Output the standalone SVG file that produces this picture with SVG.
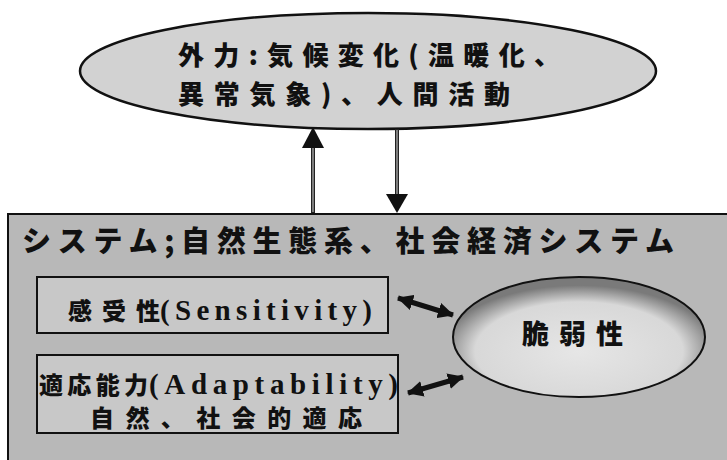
<svg xmlns="http://www.w3.org/2000/svg" width="727" height="460" viewBox="0 0 727 460">
<style>
.t{font-family:"Noto Sans CJK JP","Noto Sans CJK SC",sans-serif;font-weight:900;fill:#111}
.l{font-family:"Liberation Serif","Noto Sans CJK JP",serif;font-weight:700;fill:#111}
.frame{stroke:#111;stroke-width:2}
.shaft{stroke:#222;stroke-width:4}
.shaftin{stroke:#bbb;stroke-width:1.2}
.dbl{stroke:#111;stroke-width:5;marker-start:url(#ah);marker-end:url(#ah)}
</style>
<defs>
<marker id="ah" viewBox="0 0 16 16" refX="15" refY="8" markerWidth="16" markerHeight="16" markerUnits="userSpaceOnUse" orient="auto-start-reverse">
<path d="M0,0 L16,8 L0,16 z" fill="#111"/>
</marker>
<radialGradient id="vg" cx="50%" cy="62%" r="55%">
<stop offset="0" stop-color="#e6e6e6"/>
<stop offset="0.75" stop-color="#d8d8d8"/>
<stop offset="1" stop-color="#7a7a7a"/>
</radialGradient>
</defs>
<rect width="727" height="460" fill="#fff"/>
<g id="external">
<ellipse cx="368" cy="71" rx="288" ry="58" fill="#d2d2d2" stroke="#111" stroke-width="2.5"/>
<text class="t" x="178" y="65" font-size="26" textLength="382" lengthAdjust="spacing">外力:気候変化(温暖化、</text>
<text class="t" x="178" y="104" font-size="26" textLength="332" lengthAdjust="spacing">異常気象)、人間活動</text>
</g>
<g id="system">
<rect x="8" y="214" width="740" height="260" fill="#b8b8b8" class="frame"/>
<text class="t" x="22" y="252" font-size="29" textLength="652" lengthAdjust="spacing">システム;自然生態系、社会経済システム</text>
</g>
<g id="sensitivity">
<rect x="37" y="277" width="351" height="56" fill="#c8c8c8" class="frame"/>
<text class="t" x="68" y="320" font-size="24" textLength="92" lengthAdjust="spacing">感受性</text>
<text class="l" x="160" y="320" font-size="29" textLength="212" lengthAdjust="spacing">(Sensitivity)</text>
</g>
<g id="adaptability">
<rect x="37" y="355" width="361" height="78" fill="#c8c8c8" class="frame"/>
<text class="t" x="39" y="394" font-size="24" textLength="109" lengthAdjust="spacing">適応能力</text>
<text class="l" x="149" y="394" font-size="29" textLength="249" lengthAdjust="spacing">(Adaptability)</text>
<text class="t" x="90" y="427" font-size="24" textLength="272" lengthAdjust="spacing">自然、社会的適応</text>
</g>
<g id="vulnerability">
<ellipse cx="579" cy="337" rx="126" ry="60" fill="url(#vg)" stroke="#111" stroke-width="2"/>
<text class="t" x="522" y="344" font-size="27" textLength="101" lengthAdjust="spacing">脆弱性</text>
</g>
<g id="connectors">
<line class="shaft" x1="313" y1="213" x2="313" y2="146"/>
<line class="shaftin" x1="313" y1="212" x2="313" y2="147"/>
<polygon points="302,148 324,148 313,127" fill="#111"/>
<line class="shaft" x1="397" y1="129" x2="397" y2="196"/>
<line class="shaftin" x1="397" y1="130" x2="397" y2="195"/>
<polygon points="386,194 408,194 397,213" fill="#111"/>
<line class="dbl" x1="398" y1="298" x2="453" y2="315"/>
<line class="dbl" x1="408" y1="393" x2="463" y2="377"/>
</g>
</svg>
